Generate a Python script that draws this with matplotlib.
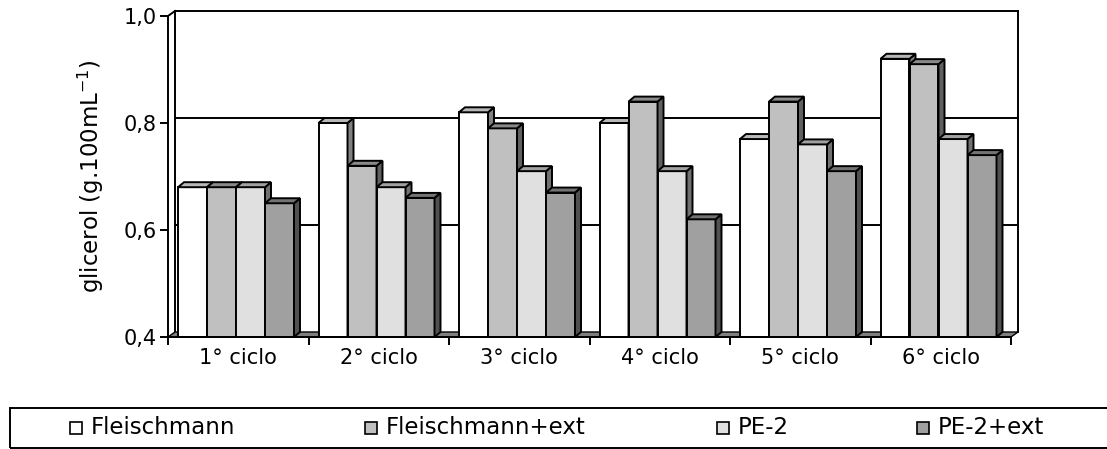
import matplotlib.pyplot as plt
from matplotlib.patches import Polygon, Rectangle
import numpy as np

# glicerol por ciclo fermentativo
ciclos = ["1° ciclo", "2° ciclo", "3° ciclo", "4° ciclo", "5° ciclo", "6° ciclo"]
series = ["Fleischmann", "Fleischmann+ext", "PE-2", "PE-2+ext"]
fleischmann = [0.68, 0.80, 0.82, 0.80, 0.77, 0.92]
fleischmann_ext = [0.68, 0.72, 0.79, 0.84, 0.84, 0.91]
pe2 = [0.68, 0.68, 0.71, 0.71, 0.76, 0.77]
pe2_ext = [0.65, 0.66, 0.67, 0.62, 0.71, 0.74]
yticks = [0.4, 0.6, 0.8, 1.0]
ytick_labels = ["0,4", "0,6", "0,8", "1,0"]

colours = ["#FFFFFF", "#C0C0C0", "#E0E0E0", "#A0A0A0"]
W, H = 1107, 449
FS = 15
LW = 1.4

plt.rcParams["font.family"] = "DejaVu Sans"
fig = plt.figure(figsize=(W / 100, H / 100), dpi=100)
# front face of the pseudo-3D plot, in pixel extents
x0, x1, y0, y1 = 168, 1011, 337, 16
ax = fig.add_axes([x0 / W, 1 - y0 / H, (x1 - x0) / W, (y0 - y1) / H])
ax.set_xlim(0, 6)
ax.set_ylim(0.4, 1.0)

px_x = 6 / (x1 - x0)
px_y = 0.6 / (y0 - y1)
wdx, wdy = 7 * px_x, 5 * px_y  # wall depth
bdx, bdy = 6 * px_x, 5 * px_y  # bar depth


def shade(c, f):
    r, g, b = [int(c[i:i + 2], 16) / 255 for i in (1, 3, 5)]
    return (r * f, g * f, b * f)


# back wall and gridlines
for v in yticks[1:]:
    ax.plot([wdx, 6 + wdx], [v + wdy, v + wdy], color="black", lw=LW, clip_on=False, zorder=1)
for xv in (wdx, 6 + wdx):
    ax.plot([xv, xv], [0.4 + wdy, 1.0 + wdy], color="black", lw=LW, clip_on=False, zorder=1)
ax.plot([0, wdx], [1.0, 1.0 + wdy], color="black", lw=LW, clip_on=False, zorder=1)

# floor
floor = Polygon([(0, 0.4), (wdx, 0.4 + wdy), (6 + wdx, 0.4 + wdy), (6, 0.4)],
                closed=True, facecolor="#808080", edgecolor="black", lw=1.0,
                clip_on=False, zorder=2)
ax.add_patch(floor)

values = [fleischmann, fleischmann_ext, pe2, pe2_ext]
bw = 29 * px_x
offset = 10 * px_x
z = 3
for ci in range(len(ciclos)):
    for si, vals in enumerate(values):
        v = vals[ci]
        xl = ci + offset + si * bw
        ax.bar(xl, v - 0.4, bottom=0.4, width=bw, align="edge", color=colours[si],
               edgecolor="black", lw=LW, zorder=z, clip_on=False)
        side = Polygon([(xl + bw, 0.4), (xl + bw + bdx, 0.4 + bdy), (xl + bw + bdx, v + bdy), (xl + bw, v)],
                       closed=True, facecolor=shade(colours[si], 0.5), edgecolor="black",
                       lw=LW, zorder=z, clip_on=False)
        top = Polygon([(xl, v), (xl + bdx, v + bdy), (xl + bw + bdx, v + bdy), (xl + bw, v)],
                      closed=True, facecolor=shade(colours[si], 0.72), edgecolor="black",
                      lw=LW, zorder=z, clip_on=False)
        ax.add_patch(side)
        ax.add_patch(top)
        z += 1

for s in ("top", "right"):
    ax.spines[s].set_visible(False)
for s in ("left", "bottom"):
    ax.spines[s].set_linewidth(LW)
    ax.spines[s].set_zorder(100)

ax.set_yticks(yticks)
ax.set_yticklabels(ytick_labels, fontsize=FS)
ax.set_xticks(np.arange(7))
ax.set_xticklabels([])
ax.set_xticks(np.arange(6) + 0.5, minor=True)
ax.set_xticklabels(ciclos, minor=True, fontsize=FS)
ax.tick_params(axis="both", which="major", direction="out", length=6, width=LW)
ax.tick_params(axis="x", which="minor", length=0, pad=8)
ax.tick_params(axis="y", pad=2)

ax.set_ylabel("glicerol (g.100mL$^{\\mathregular{-1}}$)", fontsize=16.5)
ax.yaxis.set_label_coords(-0.073, 0.5)

# legend strip along the bottom
fig.patches.append(Rectangle((10 / W, 1 - 448 / H), (W + 10) / W, 40 / H,
                             transform=fig.transFigure, facecolor="none",
                             edgecolor="black", lw=LW, clip_on=False))
key_x = [70, 365, 717, 917]
for kx, name, c in zip(key_x, series, colours):
    fig.patches.append(Rectangle((kx / W, 1 - 434 / H), 12 / W, 12 / H,
                                 transform=fig.transFigure, facecolor=c,
                                 edgecolor="black", lw=1.2))
    fig.text((kx + 21) / W, 1 - 428 / H, name, fontsize=16.5, va="center", ha="left")

fig.savefig("out.png", dpi=100)
